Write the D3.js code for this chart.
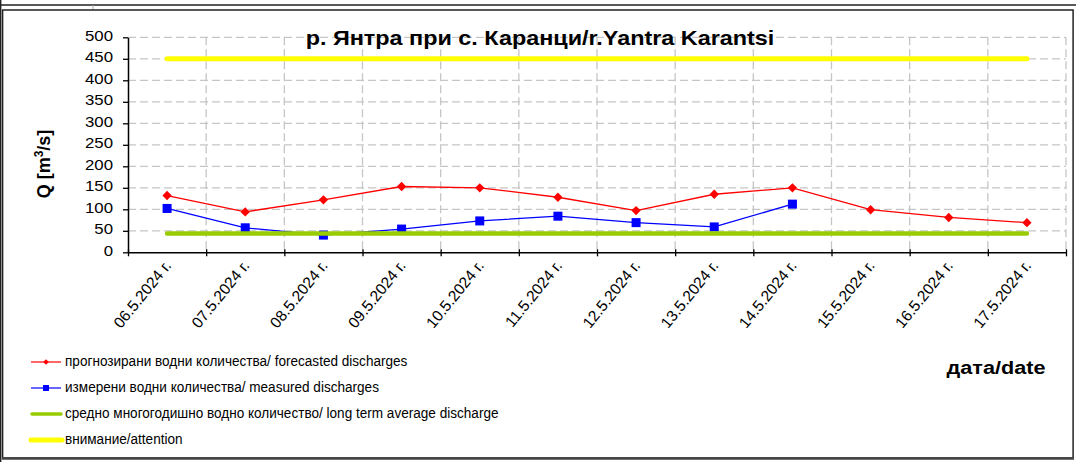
<!DOCTYPE html>
<html lang="bg">
<head>
<meta charset="UTF-8">
<title>Yantra Karantsi</title>
<script src="https://d3js.org/d3.v7.min.js"></script>
<style>
  body { margin: 0; background: #fff; }
  text { font-family: "Liberation Sans", Arial, sans-serif; fill: #000; }
</style>
</head>
<body>
<div id="chart"></div>
<script>
const dates = ["06.5.2024 г.", "07.5.2024 г.", "08.5.2024 г.", "09.5.2024 г.", "10.5.2024 г.", "11.5.2024 г.",
  "12.5.2024 г.", "13.5.2024 г.", "14.5.2024 г.", "15.5.2024 г.", "16.5.2024 г.", "17.5.2024 г."];
const forecast = [132, 94, 122, 153, 150, 128, 97, 135, 150, 99, 81, 69];
const measured = [102, 57, 40, 54, 73, 84, 69, 59, 112, null, null, null];
const average = 44;
const attention = 450;
const yTicks = [0, 50, 100, 150, 200, 250, 300, 350, 400, 450, 500];
const legendLabels = [
  "прогнозирани водни количества/ forecasted discharges",
  "измерени водни количества/ measured discharges",
  "средно многогодишно водно количество/ long term average discharge",
  "внимание/attention"
];
const title = "р. Янтра при с. Каранци/r.Yantra Karantsi";

const W = 1076, H = 462;

const svg = d3.select("#chart").append("svg")
  .attr("width", W).attr("height", H);

svg.append("rect").attr("width", W).attr("height", H).attr("fill", "#fff");

// frame
svg.append("line").attr("x1", 0).attr("x2", W).attr("y1", 5).attr("y2", 5).attr("stroke", "#222").attr("stroke-width", 1.5);
svg.append("line").attr("x1", 0.7).attr("x2", 0.7).attr("y1", 0).attr("y2", H).attr("stroke", "#222").attr("stroke-width", 1.4);
svg.append("line").attr("x1", 93).attr("x2", 93).attr("y1", 5).attr("y2", 10).attr("stroke", "#aaa");
svg.append("rect").attr("x", 2.6).attr("y", 10).attr("width", 1070.5).attr("height", 448)
  .attr("fill", "none").attr("stroke", "#222").attr("stroke-width", 1.5);
svg.append("line").attr("x1", 2).attr("x2", 1074).attr("y1", 458.5).attr("y2", 458.5).attr("stroke", "#444").attr("stroke-width", 2.5);

const x = d3.scaleBand().domain(dates).range([128, 1066]);
const xb = d3.scaleLinear().domain([0, dates.length]).range([128, 1066]);
const y = d3.scaleLinear().domain([0, 500]).range([252.3, 37.3]);
const cx = d => x(d) + x.bandwidth() / 2;

// grid
const grid = svg.append("g").attr("stroke", "#c6c6c6").attr("stroke-width", 1.3).attr("stroke-dasharray", "8,4");
grid.selectAll(".h").data(yTicks.slice(1)).join("line")
  .attr("x1", 128).attr("x2", 1066).attr("y1", d => y(d)).attr("y2", d => y(d));
grid.selectAll(".v").data(d3.range(1, dates.length + 1)).join("line")
  .attr("x1", d => xb(d)).attr("x2", d => xb(d)).attr("y1", y(500)).attr("y2", y(0));

// axes
const yAxis = svg.append("g").attr("transform", "translate(128,0)")
  .call(d3.axisLeft(y).tickValues(yTicks).tickSize(5).tickSizeOuter(0).tickFormat(""));
const xAxis = svg.append("g").attr("transform", `translate(0,${y(0)})`)
  .call(d3.axisBottom(xb).tickValues(d3.range(0, dates.length + 1)).tickSize(5).tickSizeOuter(0).tickFormat(""));
[yAxis, xAxis].forEach(a => {
  a.select(".domain").attr("stroke", "#000").attr("stroke-width", 1.5);
  a.selectAll(".tick line").attr("stroke", "#000").attr("stroke-width", 1.3);
});
xAxis.selectAll(".tick line").attr("y1", -3).attr("y2", 4);

svg.append("g").selectAll("text").data(yTicks).join("text")
  .attr("transform", d => `translate(113,${y(d)}) scale(1.2,1)`)
  .attr("text-anchor", "end").attr("dominant-baseline", "middle")
  .attr("font-size", 14).text(d => d);

svg.append("g").selectAll("text").data(dates).join("text")
  .attr("transform", d => `translate(${cx(d) + 5},266) rotate(-51)`)
  .attr("text-anchor", "end").attr("font-size", 15.5).text(d => d);

// series
const line = d3.line().defined(d => d.v != null).x(d => cx(d.d)).y(d => y(d.v));
const fData = dates.map((d, i) => ({ d, v: forecast[i] }));
const mData = dates.map((d, i) => ({ d, v: measured[i] }));

svg.append("path").datum(fData).attr("d", line).attr("fill", "none").attr("stroke", "#ff0000").attr("stroke-width", 1.3);
svg.append("g").selectAll("path").data(fData).join("path")
  .attr("transform", d => `translate(${cx(d.d)},${y(d.v)}) rotate(45)`)
  .attr("d", "M-3.3,-3.3h6.6v6.6h-6.6z").attr("fill", "#ff0000");

svg.append("path").datum(mData.filter(d => d.v != null)).attr("d", line).attr("fill", "none").attr("stroke", "#0000ff").attr("stroke-width", 1.3);
svg.append("g").selectAll("rect").data(mData.filter(d => d.v != null)).join("rect")
  .attr("x", d => cx(d.d) - 4.5).attr("y", d => y(d.v) - 4.5).attr("width", 9).attr("height", 9).attr("fill", "#0000ff");

svg.append("line").attr("x1", cx(dates[0])).attr("x2", cx(dates[dates.length - 1]))
  .attr("y1", y(average)).attr("y2", y(average))
  .attr("stroke", "#99cc00").attr("stroke-width", 4.5).attr("stroke-linecap", "round");
svg.append("line").attr("x1", cx(dates[0])).attr("x2", cx(dates[dates.length - 1]))
  .attr("y1", y(attention)).attr("y2", y(attention))
  .attr("stroke", "#ffff00").attr("stroke-width", 5).attr("stroke-linecap", "round");

// titles
svg.append("text").attr("transform", "translate(540,45) scale(1.2,1)")
  .attr("text-anchor", "middle").attr("font-size", 19.5).attr("font-weight", "bold").text(title);

const yt = svg.append("text").attr("transform", "translate(50,164) rotate(-90)")
  .attr("text-anchor", "middle").attr("font-size", 18).attr("font-weight", "bold");
yt.append("tspan").text("Q [m");
yt.append("tspan").attr("font-size", 12).attr("dy", -7).text("3");
yt.append("tspan").attr("dy", 7).text("/s]");

svg.append("text").attr("transform", "translate(996,374) scale(1.14,1)")
  .attr("text-anchor", "middle").attr("font-size", 19).attr("font-weight", "bold").text("дата/date");

// legend
const ly = [362, 388, 414, 440];
const lg = svg.append("g");
lg.append("line").attr("x1", 31).attr("x2", 61).attr("y1", ly[0]).attr("y2", ly[0]).attr("stroke", "#ff0000").attr("stroke-width", 1.2);
lg.append("path").attr("transform", `translate(46,${ly[0]}) rotate(45)`).attr("d", "M-2,-2h4v4h-4z").attr("fill", "#ff0000");
lg.append("line").attr("x1", 31).attr("x2", 61).attr("y1", ly[1]).attr("y2", ly[1]).attr("stroke", "#0000ff").attr("stroke-width", 1.2);
lg.append("rect").attr("x", 43).attr("y", ly[1] - 3).attr("width", 6).attr("height", 6).attr("fill", "#0000ff");
lg.append("line").attr("x1", 32).attr("x2", 61).attr("y1", ly[2]).attr("y2", ly[2]).attr("stroke", "#99cc00").attr("stroke-width", 3.5).attr("stroke-linecap", "round");
lg.append("line").attr("x1", 31).attr("x2", 62).attr("y1", ly[3]).attr("y2", ly[3]).attr("stroke", "#ffff00").attr("stroke-width", 5).attr("stroke-linecap", "round");
lg.selectAll("text").data(legendLabels).join("text")
  .attr("transform", (d, i) => `translate(65,${ly[i]}) scale(0.905,1)`)
  .attr("dominant-baseline", "middle").attr("font-size", 15).text(d => d);
</script>
</body>
</html>
